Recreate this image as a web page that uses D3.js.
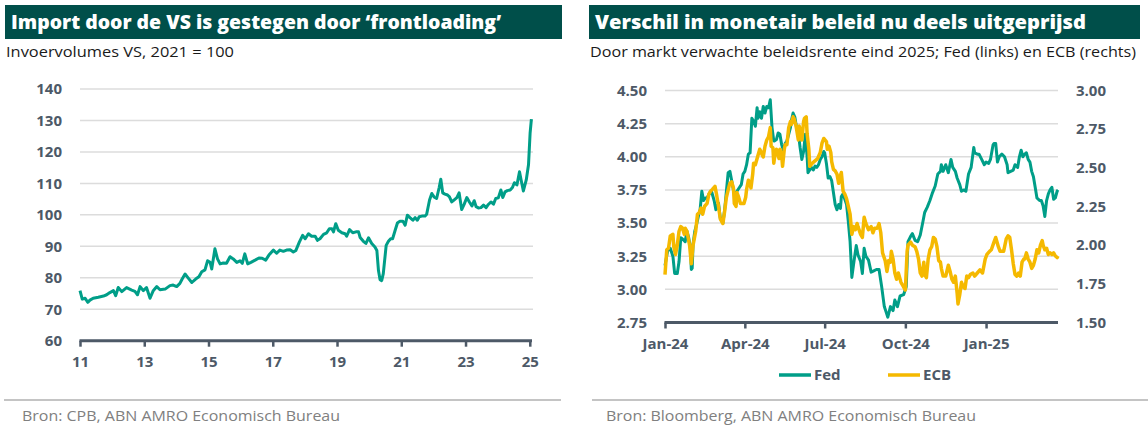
<!DOCTYPE html>
<html><head><meta charset="utf-8">
<script src="https://cdn.jsdelivr.net/npm/d3@7"></script>
<style>
html,body{margin:0;padding:0;background:#fff;}
svg{display:block;font-family:"Open Sans",sans-serif;}
</style></head>
<body>
<svg id="chart" width="1148" height="432"></svg>
<script>
// ---------- Left chart: US import volumes (2021 = 100) ----------
const leftTitle = "Import door de VS is gestegen door \u2018frontloading\u2019";
const leftSubtitle = "Invoervolumes VS, 2021 = 100";
const leftSource = "Bron: CPB, ABN AMRO Economisch Bureau";
const importYears = [11.00,11.07,11.16,11.24,11.31,11.41,11.57,11.73,11.83,11.93,12.04,12.11,12.19,12.30,12.45,12.61,12.71,12.79,12.87,12.97,13.07,13.18,13.28,13.39,13.49,13.65,13.80,13.90,14.01,14.11,14.18,14.27,14.37,14.48,14.60,14.70,14.79,14.89,14.97,15.05,15.10,15.20,15.28,15.36,15.46,15.56,15.67,15.77,15.88,15.98,16.05,16.13,16.22,16.32,16.45,16.57,16.67,16.78,16.88,17.02,17.12,17.22,17.33,17.43,
17.54,17.64,17.72,17.83,17.93,18.01,18.11,18.21,18.32,18.39,18.47,18.58,18.68,18.76,18.84,18.89,18.96,19.04,19.15,19.25,19.30,19.39,19.49,19.59,19.67,19.72,19.82,19.90,19.98,20.08,20.18,20.24,20.29,20.34,20.39,20.44,20.53,20.60,20.67,20.73,20.81,20.88,20.96,21.05,21.12,21.19,21.27,21.36,21.43,21.50,21.56,21.64,21.74,21.79,21.88,21.95,22.02,22.10,22.18,22.23,22.29,22.36,22.44,22.50,22.57,22.64,22.73,22.80,22.88,22.96,23.04,23.12,23.20,23.27,23.33,23.40,23.48,23.56,23.64,23.71,23.79,23.87,23.94,24.02,24.10,24.16,24.23,24.30,24.39,24.46,24.52,24.60,24.68,24.73,24.80,24.89,24.96,25.01,25.05];
const importValues = [75.9,73.2,73.5,72.2,72.9,73.5,73.8,74.2,74.6,75.3,75.9,74.3,76.9,75.6,76.9,76.1,75.7,74.6,77.2,75.9,76.9,73.5,75.9,77.2,76.2,76.4,77.5,77.7,77.2,78.2,79.6,81.2,79.9,78.5,79.6,80.3,81.9,82.5,85.4,84.9,82.8,89.2,86.0,84.4,84.7,84.6,86.7,86.0,84.9,85.4,84.6,87.6,84.4,84.9,85.6,86.3,86.2,85.6,87.2,88.8,87.8,88.8,88.4,88.8,
88.9,88.2,88.7,91.4,93.5,92.4,94.0,93.2,93.2,91.9,92.4,93.8,94.3,95.6,95.6,94.6,97.2,95.1,94.3,94.0,93.2,95.3,94.3,94.6,94.6,92.8,91.6,90.9,92.7,90.9,89.8,88.7,82.3,79.4,79.1,81.3,90.3,91.6,92.4,92.4,95.1,97.4,98.0,98.0,96.7,99.9,99.1,98.3,99.1,98.3,99.4,99.6,99.6,100.2,104.7,106.8,105.7,105.2,108.7,111.3,107.0,106.6,106.3,105.7,104.1,104.7,105.5,107.0,101.7,103.4,105.5,104.1,102.8,104.5,102.6,102.2,102.3,103.1,102.3,103.3,104.1,103.4,105.2,105.4,107.9,105.5,107.3,107.7,107.9,108.7,110.2,109.5,113.7,111.1,107.6,111.1,115.9,126.0,130.4];
const leftYTicks = [60,70,80,90,100,110,120,130,140];
const leftXTicks = [11,13,15,17,19,21,23,25];

// ---------- Right chart: expected policy rate end-2025 ----------
const rightTitle = "Verschil in monetair beleid nu deels uitgeprijsd";
const rightSubtitle = "Door markt verwachte beleidsrente eind 2025; Fed (links) en ECB (rechts)";
const rightSource = "Bron: Bloomberg, ABN AMRO Economisch Bureau";
const baseDate = "2024-01-01"; // day offsets below count from this date
const endDate = "2025-03-24";
const fedDays = [0,3,6,9,11,14,16,18,20,23,25,27,29,30,31,32,34,36,38,40,42,44,46,48,51,53,56,58,61,63,66,68,70,72,74,76,78,80,82,85,87,89,91,93,95,97,99,101,103,105,106,108,110,112,114,116,118,120,122,124,125,127,129,131,133,135,137,139,141,143,144,146,148,150,152,154,156,158,160,162,163,165,167,169,171,173,175,177,179,181,182,184,186,188,190,192,194,196,198,200,201,203,205,207,209,211,213,215,218,220,223,225,227,229,232,235,238,241,244,247,250,252,254,257,260,262,265,268,272,275,277,280,282,285,288,291,294,296,299,302,305,308,311,314,315,317,320,323,326,328,331,333,336,338,341,343,346,349,352,353,356,358,361,364,366,369,371,374,375,377,379,381,384,387,390,391,394,397,399,402,404,406,408,410,412,414,416,418,420,422,424,427,429,431,433,435,437,439,441,443,445,447,448];
const fedValues = [3.18,3.29,3.31,3.25,3.12,3.12,3.21,3.39,3.38,3.36,3.44,3.39,3.31,3.15,3.16,3.34,3.44,3.49,3.55,3.60,3.74,3.67,3.69,3.69,3.73,3.74,3.67,3.60,3.65,3.54,3.50,3.60,3.74,3.88,3.89,3.82,3.75,3.70,3.74,3.77,3.79,3.87,3.89,3.94,4.02,4.03,4.29,4.27,4.23,4.37,4.29,4.34,4.29,4.38,4.33,4.38,4.37,4.43,4.22,4.12,4.12,4.13,4.18,4.17,4.09,4.05,4.10,4.12,4.17,4.22,4.27,4.33,4.30,4.22,4.18,4.07,3.98,4.04,4.17,4.00,3.88,3.90,3.92,3.90,3.93,3.92,3.94,3.98,4.00,4.04,4.03,3.95,3.84,3.85,3.82,3.73,3.64,3.60,3.64,3.61,3.70,3.72,3.68,3.64,3.51,3.36,3.09,3.19,3.33,3.26,3.21,3.12,3.31,3.25,3.22,3.13,3.14,3.15,3.15,3.02,2.87,2.83,2.79,2.87,2.84,2.92,2.87,2.95,2.96,3.02,3.36,3.40,3.42,3.37,3.36,3.41,3.51,3.58,3.62,3.67,3.73,3.78,3.87,3.89,3.94,3.89,3.94,3.88,3.98,3.92,3.89,3.84,3.79,3.74,3.75,3.74,3.87,3.92,4.07,4.03,4.02,4.02,3.98,3.94,3.96,3.95,3.98,4.09,4.10,4.10,3.96,4.00,4.02,4.00,3.94,3.88,3.89,3.90,3.94,3.92,4.00,4.05,4.00,4.02,4.03,3.98,3.96,3.89,3.85,3.77,3.69,3.67,3.67,3.63,3.55,3.67,3.72,3.75,3.77,3.68,3.69,3.74,3.75];
const ecbDays = [0,2,4,6,9,10,12,14,16,18,20,22,23,25,28,30,32,35,37,39,41,43,45,48,50,52,54,57,59,61,63,66,68,70,73,74,76,78,79,81,82,84,86,88,90,92,93,95,97,98,100,101,103,105,108,109,111,112,114,116,118,120,121,123,124,126,127,130,131,133,134,136,137,139,141,143,144,146,147,149,150,152,153,155,156,158,159,161,162,164,165,168,170,172,174,177,179,181,184,185,187,189,190,192,194,196,198,200,201,203,205,207,209,211,213,215,217,219,220,223,225,227,229,232,235,237,239,242,244,246,248,251,253,255,257,258,260,262,264,266,269,271,274,276,277,280,282,285,287,289,291,293,295,296,298,300,302,304,306,308,310,312,314,315,317,320,323,325,327,329,331,333,334,336,338,340,342,344,346,348,351,353,356,359,362,365,367,370,372,375,377,380,382,386,389,391,393,395,397,399,401,403,405,407,409,410,412,414,416,418,420,422,424,426,428,430,431,433,435,437,439,441,443,445,447,448];
const ecbValues = [1.81,1.97,1.98,2.06,2.07,1.99,1.94,2.00,2.09,2.12,2.11,2.07,2.11,2.09,2.00,1.88,2.00,2.09,2.20,2.21,2.24,2.20,2.25,2.27,2.33,2.35,2.36,2.38,2.32,2.25,2.17,2.14,2.22,2.31,2.38,2.40,2.41,2.37,2.27,2.25,2.34,2.31,2.27,2.27,2.27,2.31,2.36,2.42,2.39,2.37,2.46,2.53,2.52,2.56,2.62,2.61,2.58,2.57,2.64,2.68,2.70,2.76,2.64,2.63,2.53,2.61,2.62,2.56,2.62,2.58,2.51,2.62,2.65,2.65,2.76,2.80,2.78,2.83,2.82,2.78,2.75,2.68,2.77,2.72,2.68,2.80,2.82,2.83,2.72,2.62,2.51,2.53,2.54,2.55,2.56,2.60,2.66,2.69,2.67,2.62,2.64,2.60,2.54,2.49,2.48,2.46,2.40,2.45,2.47,2.35,2.33,2.30,2.25,2.20,2.07,2.12,2.10,2.14,2.12,2.07,2.05,2.18,2.14,2.10,2.12,2.08,2.11,2.11,2.14,2.08,1.95,1.90,1.83,1.90,1.89,1.96,1.91,1.82,1.78,1.82,1.76,1.74,1.71,1.96,2.00,2.02,2.00,1.99,1.96,1.91,1.82,1.80,1.89,1.81,1.79,1.91,1.97,1.99,2.05,2.04,1.99,1.90,1.89,1.85,1.80,1.80,1.87,1.83,1.78,1.76,1.80,1.69,1.62,1.68,1.76,1.73,1.72,1.80,1.79,1.81,1.82,1.80,1.82,1.84,1.82,1.91,1.94,1.96,1.97,2.02,2.05,1.99,1.96,1.96,2.04,2.06,2.05,1.97,1.88,1.81,1.80,1.82,1.80,1.89,1.91,1.91,1.95,1.91,1.89,1.85,1.87,1.91,1.97,1.95,2.00,2.03,2.00,1.97,1.98,1.94,1.95,1.94,1.95,1.93,1.92,1.93];
const fedTicks = [2.75,3.00,3.25,3.50,3.75,4.00,4.25,4.50];
const ecbTicks = [1.50,1.75,2.00,2.25,2.50,2.75,3.00];
const rightXTicks = ["2024-01-01","2024-04-01","2024-07-01","2024-10-01","2025-01-01"];
const legendNames = ["Fed","ECB"];

// ---------- Styling ----------
const C = {bar:"#004f4a", teal:"#009e88", gold:"#f5b900", axis:"#4d5967", grid:"#dcdcdc", label:"#4d5967", src:"#808080", sep:"#c4c4c4"};
const svg = d3.select("#chart");
const parse = d3.timeParse("%Y-%m-%d");

function header(x0, x1, title, titleLen, sub, subLen) {
  svg.append("rect").attr("x", x0).attr("y", 5).attr("width", x1 - x0).attr("height", 34).attr("fill", C.bar);
  svg.append("text").attr("x", x0 + 6).attr("y", 29).attr("fill", "#fff").attr("font-size", 19).attr("font-weight", 800)
    .attr("textLength", titleLen).attr("lengthAdjust", "spacingAndGlyphs").text(title);
  svg.append("text").attr("x", x0 + 1).attr("y", 57).attr("fill", "#1a1a1a").attr("font-size", 14)
    .attr("textLength", subLen).attr("lengthAdjust", "spacingAndGlyphs").text(sub);
}
function footer(x0, x1, src, srcX, srcLen) {
  svg.append("line").attr("x1", x0).attr("x2", x1).attr("y1", 400).attr("y2", 400).attr("stroke", C.sep).attr("stroke-width", 2);
  svg.append("text").attr("x", srcX).attr("y", 421).attr("fill", C.src).attr("font-size", 14)
    .attr("textLength", srcLen).attr("lengthAdjust", "spacingAndGlyphs").text(src);
}
function styleTicks(sel) {
  sel.selectAll("text").attr("fill", C.label).attr("font-size", 15).attr("font-weight", 700).attr("font-family", "Open Sans");
}

// ===== Left chart =====
header(5, 562, leftTitle, 490, leftSubtitle, 228);
footer(4, 561, leftSource, 22, 318);
{
  const x = d3.scaleLinear().domain([11, 25.1]).range([80, 533]);
  const y = d3.scaleLinear().domain([60, 140]).range([340.7, 89]);
  const g = svg.append("g");
  g.selectAll("line.grid").data(leftYTicks.slice(1)).join("line")
    .attr("x1", 80).attr("x2", 533).attr("y1", d => y(d)).attr("y2", d => y(d))
    .attr("stroke", C.grid).attr("stroke-width", 1.5);
  const ya = g.append("g").attr("transform", "translate(66,0)")
    .call(d3.axisLeft(y).tickValues(leftYTicks).tickSize(0).tickPadding(4).tickFormat(d3.format("d")));
  ya.select(".domain").remove();
  styleTicks(ya);
  const xa = g.append("g").attr("transform", `translate(0,${y(60)})`)
    .call(d3.axisBottom(x).tickValues(leftXTicks).tickSize(6).tickPadding(10).tickFormat(d => d));
  xa.select(".domain").attr("d", `M79.5,0H532`).attr("stroke", C.axis).attr("stroke-width", 3);
  xa.selectAll(".tick line").attr("stroke", C.axis).attr("stroke-width", 2.5);
  styleTicks(xa);
  const line = d3.line().x((d, i) => x(importYears[i])).y(d => y(d)).curve(d3.curveLinear);
  g.append("path").datum(importValues).attr("d", line).attr("fill", "none")
    .attr("stroke", C.teal).attr("stroke-width", 3).attr("stroke-linejoin", "round");
}

// ===== Right chart =====
header(589, 1140, rightTitle, 491, rightSubtitle, 546);
footer(592, 1148, rightSource, 606, 370);
{
  const base = parse(baseDate);
  const x = d3.scaleTime().domain([base, parse(endDate)]).range([665, 1058]);
  const yL = d3.scaleLinear().domain([2.75, 4.5]).range([322.5, 90.5]);
  const yR = d3.scaleLinear().domain([1.5, 3.0]).range([322.5, 90.5]);
  const g = svg.append("g");
  g.selectAll("line.grid").data(fedTicks.slice(1)).join("line")
    .attr("x1", 665).attr("x2", 1058).attr("y1", d => yL(d)).attr("y2", d => yL(d))
    .attr("stroke", C.grid).attr("stroke-width", 1.5);
  const yla = g.append("g").attr("transform", "translate(651,0)")
    .call(d3.axisLeft(yL).tickValues(fedTicks).tickSize(0).tickPadding(4).tickFormat(d3.format(".2f")));
  yla.select(".domain").remove();
  styleTicks(yla);
  const yra = g.append("g").attr("transform", "translate(1072,0)")
    .call(d3.axisRight(yR).tickValues(ecbTicks).tickSize(0).tickPadding(4).tickFormat(d3.format(".2f")));
  yra.select(".domain").remove();
  styleTicks(yra);
  const fmt = d3.timeFormat("%b-%y");
  const xa = g.append("g").attr("transform", `translate(0,${yL(2.75)})`)
    .call(d3.axisBottom(x).tickValues(rightXTicks.map(parse)).tickSize(6).tickPadding(10).tickFormat(fmt));
  xa.select(".domain").attr("d", `M664.5,0H1058`).attr("stroke", C.axis).attr("stroke-width", 3);
  xa.selectAll(".tick line").attr("stroke", C.axis).attr("stroke-width", 2.5);
  styleTicks(xa);

  const fedLine = d3.line().x((d, i) => x(d3.timeDay.offset(base, fedDays[i]))).y(d => yL(d));
  const ecbLine = d3.line().x((d, i) => x(d3.timeDay.offset(base, ecbDays[i]))).y(d => yR(d));
  g.append("path").datum(fedValues).attr("d", fedLine).attr("fill", "none")
    .attr("stroke", C.teal).attr("stroke-width", 3).attr("stroke-linejoin", "round");
  g.append("path").datum(ecbValues).attr("d", ecbLine).attr("fill", "none")
    .attr("stroke", C.gold).attr("stroke-width", 3.5).attr("stroke-linejoin", "round");

  // legend
  const lg = g.append("g").attr("transform", "translate(779,375)");
  const items = lg.selectAll("g").data(legendNames).join("g").attr("transform", (d, i) => `translate(${i * 109},0)`);
  items.append("line").attr("x1", 0).attr("x2", 32).attr("stroke", (d, i) => i ? C.gold : C.teal).attr("stroke-width", 3.5);
  items.append("text").attr("x", 35).attr("y", 5).attr("fill", C.label).attr("font-size", 15).attr("font-weight", 700).text(d => d);
}
</script>
</body></html>
